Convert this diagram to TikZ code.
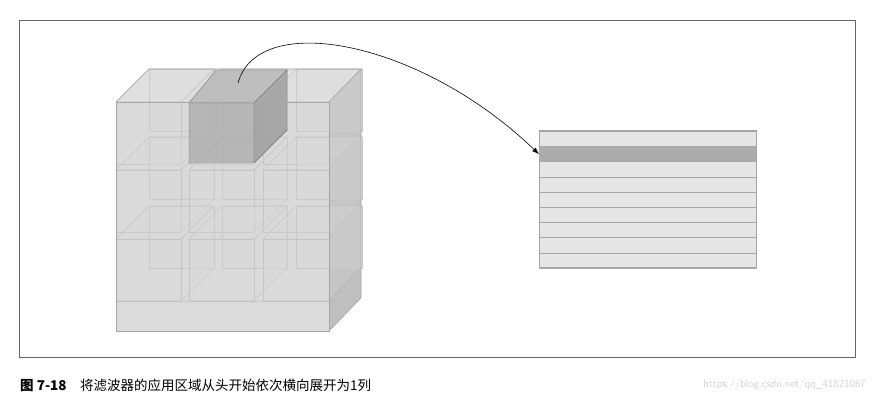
\documentclass[tikz,border=0pt]{standalone}
\usepackage{fontspec}
\newfontfamily\cjk{Noto Sans CJK SC}
\usetikzlibrary{arrows.meta}
\begin{document}
\begin{tikzpicture}[x=1pt,y=-1pt,
  edge/.style={draw=gray!70,line width=0.6pt},
  cube/.style={draw=gray!45,line width=0.5pt,fill=gray!30,fill opacity=0.25},
  row/.style={draw=gray!70,line width=0.8pt,fill=gray!20,minimum width=217pt,minimum height=15.2pt,inner sep=0pt,anchor=north west},
  darkrow/.style={row,fill=gray!65}]
\useasboundingbox (0,0) rectangle (874,403);
\draw[gray!80!black,line width=0.6pt] (19,20) rectangle (855,357);
% big block
\fill[gray!28] (116,102) rectangle (329,331);
\fill[gray!22] (116,102) -- (149,69) -- (361,69) -- (329,102) -- cycle;
\fill[gray!50] (329,102) -- (361,69) -- (361,298) -- (329,331) -- cycle;
% small cubes
\foreach \x/\w in {116/65,189/65,263/66}{
 \foreach \y in {102,170,239}{
  \draw[cube] (\x+33,\y-33) rectangle ++(\w,62);
  \draw[cube] (\x,\y) -- (\x+33,\y-33) -- (\x+33+\w,\y-33) -- (\x+\w,\y) -- cycle;
  \draw[cube] (\x+\w,\y) -- (\x+33+\w,\y-33) -- (\x+33+\w,\y+29) -- (\x+\w,\y+62) -- cycle;
  \draw[cube] (\x,\y) rectangle ++(\w,62);
 }}
% dark cube
\fill[gray!55,opacity=0.85] (189,103) -- (216,70) -- (287,70) -- (254,103) -- cycle;
\fill[gray!75,opacity=0.85] (254,103) -- (287,70) -- (287,130) -- (254,163) -- cycle;
\fill[gray!62,opacity=0.85] (189,103) rectangle (254,163);
\draw[gray!60!black,line width=0.4pt,opacity=0.6] (189,103) rectangle (254,163) (189,103) -- (216,70) -- (287,70) -- (254,103) (287,70) -- (287,130) -- (254,163);
% block outline
\draw[edge] (116,102) rectangle (329,331);
\draw[edge] (116,102) -- (149,69) -- (361,69) -- (329,102) (361,69) -- (361,298) -- (329,331);
\draw[gray!60,line width=0.5pt] (116,301) -- (329,301) -- (361,268);
\coordinate (src) at (238,83);
% table
\foreach \i in {0,2,3,4,5,6,7,8}{
  \node[row] (r\i) at (539,{131+\i*15.2}) {};}
\node[darkrow] (r1) at (539,146.2) {};
\draw[gray!70,line width=1pt] (539,131) rectangle (756,267.8);
\draw[-{Latex[length=7pt,width=5pt]},line width=0.6pt] (src) .. controls (258,10) and (420,40) .. (r1.west);
% caption
\node[anchor=west,inner sep=0pt] (cap) at (20,385) {\cjk\fontsize{13.5}{16}\selectfont\textbf{图 7-18}\quad 将滤波器的应用区域从头开始依次横向展开为1列};
\node[anchor=east,inner sep=0pt,text=gray!35] (wm) at (866,385) {\fontsize{11}{13}\selectfont\sffamily https://blog.csdn.net/qq\_41821067};
\end{tikzpicture}
\end{document}
